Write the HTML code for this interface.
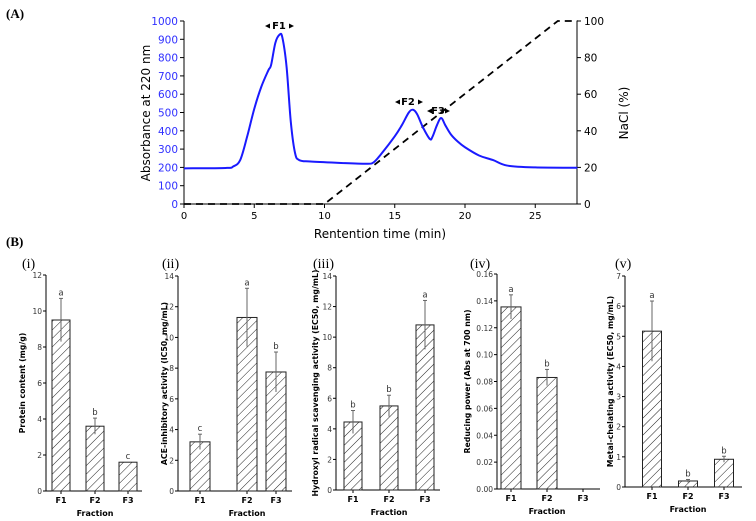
<!DOCTYPE html>
<html><head><meta charset="utf-8"><style>
body{margin:0;background:#fff}
svg{display:block}
text{font-family:"DejaVu Sans","Liberation Sans",sans-serif}
.serif{font-family:"Liberation Serif",serif}
</style></head><body>
<svg id="s" width="756" height="521" viewBox="0 0 756 521" xmlns="http://www.w3.org/2000/svg">
<defs><pattern id="hatch" width="6" height="6" patternUnits="userSpaceOnUse" patternTransform="rotate(45)"><line x1="0" y1="0" x2="0" y2="6" stroke="#222" stroke-width="1"/></pattern></defs>
<text x="6" y="18" class="serif" font-size="13" font-weight="bold">(A)</text>
<text x="6" y="246" class="serif" font-size="13" font-weight="bold">(B)</text>
<g id="topg"></g><g id="botg"></g>
</svg>
<script>
const NS="http://www.w3.org/2000/svg";
const chromTime=[0,3,3.5,4,4.5,5,5.5,6,6.2,6.5,6.8,7.0,7.3,7.6,7.9,8.2,9,11,13,13.5,14,15,15.5,16,16.3,16.6,17,17.5,17.7,18,18.3,18.6,19,19.5,20,21,22,23,25,28];
const chromAbs=[195,197,205,240,370,520,640,730,760,880,925,910,750,450,280,240,232,225,220,228,270,370,430,500,515,490,420,355,370,430,470,430,380,340,310,265,240,210,200,198];
const naclTime=[0,10,26.6,28];
const naclPct=[0,0,100,100];
const xTicks=[0,5,10,15,20,25];
const yTicks=[0,100,200,300,400,500,600,700,800,900,1000];
const y2Ticks=[0,20,40,60,80,100];
const fractions=["F1","F2","F3"];
const p1Vals=[9.5,3.6,1.6],p1Err=[1.2,0.45,0],p1Let=["a","b","c"],p1Ticks=[0,2,4,6,8,10,12];
const p2Vals=[3.2,11.3,7.75],p2Err=[0.5,1.9,1.3],p2Let=["c","a","b"],p2Ticks=[0,2,4,6,8,10,12,14];
const p3Vals=[4.45,5.5,10.8],p3Err=[0.75,0.7,1.6],p3Let=["b","b","a"],p3Ticks=[0,2,4,6,8,10,12,14];
const p4Vals=[0.1355,0.083,0],p4Err=[0.009,0.006,0],p4Let=["a","b",""],p4Ticks=[0,0.02,0.04,0.06,0.08,0.10,0.12,0.14,0.16];
const p5Vals=[5.17,0.2,0.92],p5Err=[1.0,0.05,0.1],p5Let=["a","b","b"],p5Ticks=[0,1,2,3,4,5,6,7];

function el(tag,attrs,parent,txt){const e=document.createElementNS(NS,tag);for(const k in attrs)e.setAttribute(k,attrs[k]);if(txt!==undefined)e.textContent=txt;parent.appendChild(e);return e;}
const topG=document.getElementById('topg');
const X=t=>184+t*14.05, Y=a=>204-a*0.183, Y2=p=>204-p*1.83;
el('line',{x1:184,y1:204,x2:577,y2:204,stroke:'#000'},topG);
el('line',{x1:184,y1:21,x2:184,y2:204,stroke:'#000'},topG);
el('line',{x1:577,y1:21,x2:577,y2:204,stroke:'#000'},topG);
xTicks.forEach(t=>{el('line',{x1:X(t),y1:204,x2:X(t),y2:208,stroke:'#000'},topG);const e=el('text',{x:X(t),y:219,'font-size':10,'text-anchor':'middle'},topG,t);});
yTicks.forEach(v=>{el('line',{x1:180,y1:Y(v),x2:184,y2:Y(v),stroke:'#000'},topG);const e=el('text',{x:178,y:Y(v)+4,'font-size':10.5,'text-anchor':'end',fill:'#3030ff'},topG,v);});
y2Ticks.forEach(v=>{el('line',{x1:577,y1:Y2(v),x2:581,y2:Y2(v),stroke:'#000'},topG);const e=el('text',{x:584,y:Y2(v)+4,'font-size':10.5},topG,v);});
let t1=el('text',{transform:'translate(150,113) rotate(-90)','font-size':12,'text-anchor':'middle'},topG,'Absorbance at 220 nm');

let t2=el('text',{transform:'translate(628,113) rotate(-90)','font-size':12,'text-anchor':'middle'},topG,'NaCl (%)');

let t3=el('text',{x:380,y:238,'font-size':12,'text-anchor':'middle'},topG,'Rentention time (min)');

let nd=naclTime.map((t,i)=>(i?'L':'M')+X(t)+','+Y2(naclPct[i])).join('');
let nl=el('path',{d:nd,fill:'none',stroke:'#000','stroke-width':1.8,'stroke-dasharray':'7,5'},topG);

let pts=chromTime.map((t,i)=>[X(t),Y(chromAbs[i])]);
let d='M'+pts[0];for(let i=1;i<pts.length;i++){const p0=pts[i-2]||pts[i-1],p1=pts[i-1],p2=pts[i],p3=pts[i+1]||p2;d+='C'+(p1[0]+(p2[0]-p0[0])/6)+','+(p1[1]+(p2[1]-p0[1])/6)+' '+(p2[0]-(p3[0]-p1[0])/6)+','+(p2[1]-(p3[1]-p1[1])/6)+' '+p2;}
let cl=el('path',{d:d,fill:'none',stroke:'#1a1aff','stroke-width':2},topG);

[["F1",279,29,265,294],["F2",408,105,395,423],["F3",438,114,427,450]].forEach(f=>{const e=el('text',{x:f[1],y:f[2],'font-size':10,'font-weight':'bold','text-anchor':'middle'},topG,f[0]);
 el('path',{d:`M${f[3]} ${f[2]-3}l5 -2.5v5z M${f[4]} ${f[2]-3}l-5 -2.5v5z`,fill:'#000'},topG);});

const botG=document.getElementById('botg');
function panel(o){
 const g=el('g',{},botG);
 const max=o.ticks[o.ticks.length-1];const Yp=v=>o.y0-(v/max)*(o.y0-o.yt);
 el('line',{x1:o.ax,y1:o.yt,x2:o.ax,y2:o.y0,stroke:'#000'},g);
 el('line',{x1:o.ax,y1:o.y0,x2:o.xe,y2:o.y0,stroke:'#000'},g);
 o.ticks.forEach(v=>{el('line',{x1:o.ax-3,y1:Yp(v),x2:o.ax,y2:Yp(v),stroke:'#000'},g);const e=el('text',{x:o.ax-4,y:Yp(v)+3,'font-size':7.5,'text-anchor':'end',fill:'#333'},g,o.fmt?v.toFixed(2):v);});
 o.vals.forEach((v,i)=>{const c=o.cx[i];
  el('line',{x1:c,y1:o.y0,x2:c,y2:o.y0+3,stroke:'#000'},g);
  const lb=el('text',{x:c,y:o.y0+12,'font-size':8,'font-weight':'bold','text-anchor':'middle'},g,fractions[i]);
  if(v>0){const b=el('rect',{x:c-o.w/2,y:Yp(v),width:o.w,height:o.y0-Yp(v),fill:'url(#hatch)',stroke:'#222','stroke-width':1},g);}
  const e=o.err[i];if(e>0){el('line',{x1:c,y1:Yp(v-e),x2:c,y2:Yp(v+e),stroke:'#666'},g);el('line',{x1:c-2,y1:Yp(v+e),x2:c+2,y2:Yp(v+e),stroke:'#666'},g);}
  if(o.let[i]){const t=el('text',{x:c,y:Yp(v+e)-3,'font-size':8.5,'text-anchor':'middle',fill:'#333'},g,o.let[i]);}
 });
 const ft=el('text',{x:o.cx[1],y:o.y0+25,'font-size':8,'font-weight':'bold','text-anchor':'middle'},g,'Fraction');
 const yt=el('text',{transform:`translate(${o.tx},${(o.y0+o.yt)/2}) rotate(-90)`,'font-size':7.8,'font-weight':'bold','text-anchor':'middle'},g,o.title);
 const pl=el('text',{x:o.lx,y:268,'font-size':14,class:'serif'},g,o.id);
}
panel({id:'(i)',ax:46,y0:491,yt:275,xe:142,cx:[61,95,128],w:18,vals:p1Vals,err:p1Err,let:p1Let,ticks:p1Ticks,title:'Protein content (mg/g)',tx:25,lx:22});
panel({id:'(ii)',ax:178,y0:491,yt:276,xe:292,cx:[200,247,276],w:20,vals:p2Vals,err:p2Err,let:p2Let,ticks:p2Ticks,title:'ACE-inhibitory activity (IC50, mg/mL)',tx:167,lx:162});
panel({id:'(iii)',ax:336,y0:490,yt:276,xe:440,cx:[353,389,425],w:18,vals:p3Vals,err:p3Err,let:p3Let,ticks:p3Ticks,title:'Hydroxyl radical scavenging activity (EC50, mg/mL)',tx:318,lx:313});
panel({id:'(iv)',ax:497,y0:489,yt:274,xe:600,cx:[511,547,583],w:20,vals:p4Vals,err:p4Err,let:p4Let,ticks:p4Ticks,title:'Reducing power (Abs at 700 nm)',tx:470,lx:470,fmt:1});
panel({id:'(v)',ax:625,y0:487,yt:276,xe:742,cx:[652,688,724],w:19,vals:p5Vals,err:p5Err,let:p5Let,ticks:p5Ticks,title:'Metal-chelating activity (EC50, mg/mL)',tx:613,lx:615});
</script>
</body></html>
